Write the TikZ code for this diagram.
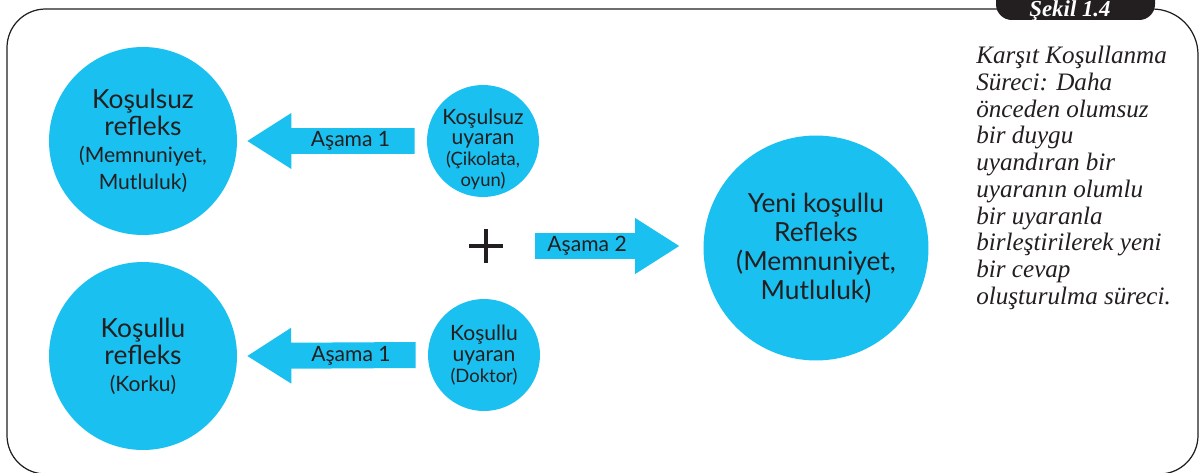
\documentclass[tikz,border=0pt]{standalone}
\usepackage{fontspec}
\setmainfont{Lato}
\newfontfamily\notefont{Liberation Serif}
\usetikzlibrary{calc}
\definecolor{skyblob}{RGB}{25,192,240}
\definecolor{inkdark}{RGB}{35,31,32}
\tikzset{
blob/.style={circle, fill=skyblob, inner sep=0pt, align=center, text=inkdark}, % every circle
bigblob/.style={blob, minimum size=3.76cm, font=\fontsize{15}{15.4}\selectfont},
smallblob/.style={blob, minimum size=2.24cm, font=\fontsize{12}{11.8}\selectfont},
blobtext/.style={inner sep=0pt, align=center, text=inkdark, font=\fontsize{12}{11.8}\selectfont},
stage/.style={fill=skyblob}, % block arrows
stagelabel/.style={inner sep=0pt, text=inkdark, font=\fontsize{12}{14}\selectfont},
frame/.style={draw=inkdark, line width=0.7pt},
note/.style={inner sep=0pt, align=left, text=inkdark, font=\notefont\itshape\fontsize{14.3}{15.2}\selectfont},
}
\newcommand{\subline}[1]{{\fontsize{12}{14}\selectfont #1}}
\newcommand{\tinyline}[1]{{\fontsize{10.5}{12}\selectfont #1}}
% block arrow: tail, tip, name, label
\newcommand{\stagearrow}[4]{%
\coordinate (#3-h) at ($(#2)!0.88cm!(#1)$);
\fill[stage] ($(#1)!0.26cm!90:(#2)$) -- ($(#3-h)!0.26cm!90:(#2)$) -- ($(#3-h)!0.56cm!90:(#2)$)
  -- (#2) -- ($(#3-h)!0.56cm!-90:(#2)$) -- ($(#3-h)!0.26cm!-90:(#2)$) -- ($(#1)!0.26cm!-90:(#2)$) -- cycle;
\node[stagelabel] (#3) at ($(#1)!0.52!(#3-h)$) {#4};
}

\begin{document}
\begin{tikzpicture}[x=0.02cm, y=-0.02cm]
\useasboundingbox (0,0) rectangle (1200,473);
\clip (0,0) rectangle (1200,473);
% frame and tab
\draw[frame] (1000,9) [rounded corners=22pt] -- (7,9) -- (7,474) -- (1198,474) [rounded corners=26pt] -- (1198,9) -- (1150,9);
\fill[inkdark, rounded corners=9pt] (996,-20) rectangle (1155,20);
\node[text=white, inner sep=0pt, anchor=base, font=\notefont\bfseries\itshape\fontsize{13}{13}\selectfont] (sekil) at (1070,17) {Şekil 1.4};

% circles
\node[bigblob] (kr) at (143,141) {Koşulsuz\\refleks\\\subline{(Memnuniyet,}\\\subline{Mutluluk)}};
\node[bigblob] (lr) at (143,356) {Koşullu\\refleks\\\subline{(Korku)}};
\node[smallblob] (ku) at (483,141) {};
\node[blobtext] (kutext) at ($(ku)+(0,8)$) {Koşulsuz\\uyaran\\\tinyline{(Çikolata,}\\\tinyline{oyun)}};
\node[smallblob] (lu) at (484,355) {Koşullu\\uyaran\\\tinyline{(Doktor)}};
\node[blob, minimum size=4.5cm, font=\fontsize{15}{16.5}\selectfont] (yk) at (816,248) {Yeni koşullu\\Refleks\\(Memnuniyet,\\Mutluluk)};

% arrows
\coordinate (a1t) at ($(ku.west)+(-12,0)$);
\coordinate (a1p) at ($(kr.east)+(10,0)$);
\stagearrow{a1t}{a1p}{a1}{Aşama 1}
\coordinate (b1t) at ($(lu.west)+(-12,0)$);
\coordinate (b1p) at ($(lr.east)+(10,0)$);
\stagearrow{b1t}{b1p}{b1}{Aşama 1}
\coordinate (a2t) at (535,246);
\coordinate (a2p) at ($(yk.west)+(-24,-2)$);
\stagearrow{a2t}{a2p}{a2}{Aşama 2}

% plus
\draw[inkdark, line width=0.075cm] (486,246) +(-17,0) -- +(17,0) +(0,-17) -- +(0,17);

% side note
\node[note, anchor=north west] (note) at (976,46) {Karşıt Koşullanma\\Süreci: Daha\\önceden olumsuz\\bir duygu\\uyandıran bir\\uyaranın olumlu\\bir uyaranla\\birleştirilerek yeni\\bir cevap\\oluşturulma süreci.};
\end{tikzpicture}
\end{document}
